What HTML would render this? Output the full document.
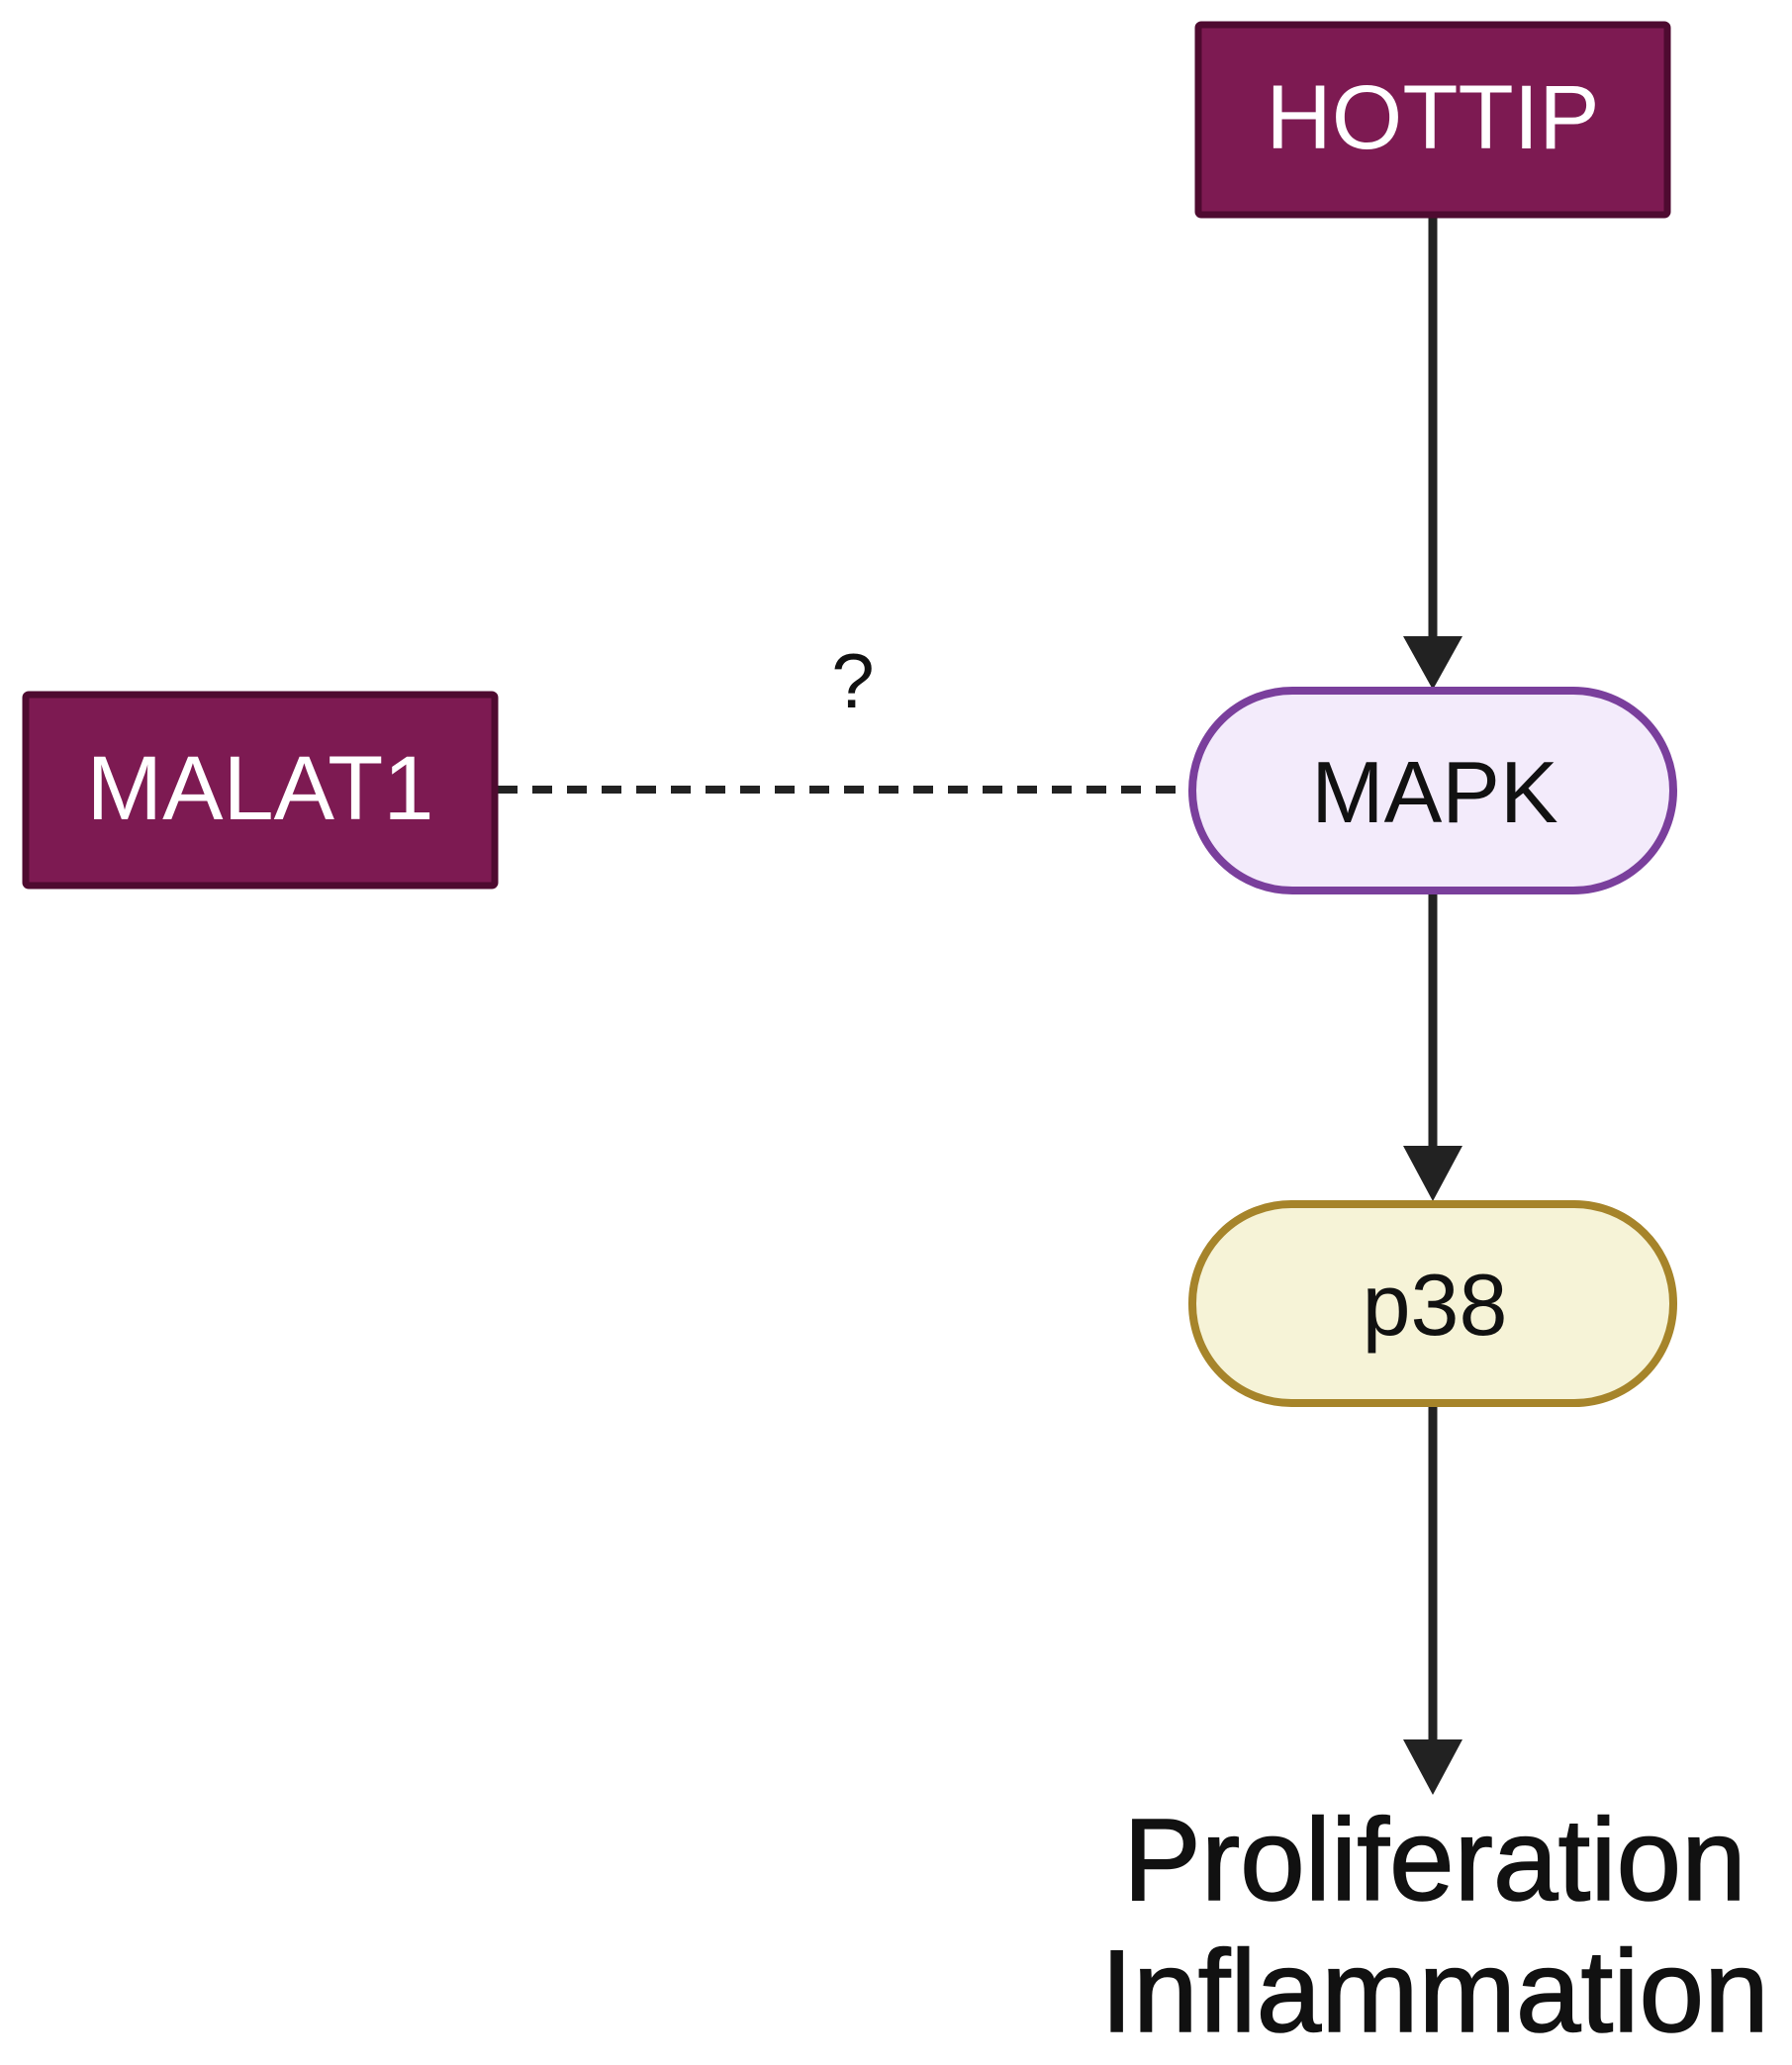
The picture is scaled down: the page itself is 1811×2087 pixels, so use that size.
<!DOCTYPE html>
<html><head><meta charset="utf-8"><style>
html,body{margin:0;padding:0;background:#fff;}
svg{display:block;}
text{font-family:"Liberation Sans",sans-serif;}
</style></head><body>
<svg width="1811" height="2087" viewBox="0 0 1811 2087" xmlns="http://www.w3.org/2000/svg">
<rect width="1811" height="2087" fill="#fff"/>
<line x1="1448" y1="217" x2="1448" y2="650" stroke="#222" stroke-width="9"/>
<polygon points="1418,643 1478,643 1448,697" fill="#222"/>
<line x1="1448" y1="901" x2="1448" y2="1165" stroke="#222" stroke-width="9"/>
<polygon points="1418,1158 1478,1158 1448,1214" fill="#222"/>
<line x1="1448" y1="1419" x2="1448" y2="1765" stroke="#222" stroke-width="9"/>
<polygon points="1418,1758 1478,1758 1448,1814" fill="#222"/>
<line x1="503" y1="798" x2="1202" y2="798" stroke="#222" stroke-width="8" stroke-dasharray="20,15"/>
<text x="862" y="715" font-size="78" text-anchor="middle" fill="#111">?</text>
<rect x="1211" y="25" width="474" height="192" rx="3" fill="#7d1a52" stroke="#4e0a30" stroke-width="7"/>
<text x="1448" y="150" font-size="92" text-anchor="middle" fill="#fff">HOTTIP</text>
<rect x="26" y="702" width="474" height="193" rx="3" fill="#7d1a52" stroke="#4e0a30" stroke-width="7"/>
<text x="263" y="828" font-size="92" text-anchor="middle" fill="#fff">MALAT1</text>
<rect x="1205" y="698" width="486" height="202" rx="101" fill="#f3ebfb" stroke="#7a3f9c" stroke-width="8"/>
<text x="1450" y="831" font-size="88" text-anchor="middle" fill="#111">MAPK</text>
<rect x="1205" y="1217" width="486" height="201" rx="100" fill="#f6f3d7" stroke="#a6842a" stroke-width="8"/>
<text x="1450" y="1349" font-size="88" text-anchor="middle" fill="#111">p38</text>
<text x="1450" y="1920" font-size="118" text-anchor="middle" fill="#111" stroke="#111" stroke-width="1.5">Proliferation</text>
<text x="1450" y="2053" font-size="118" text-anchor="middle" fill="#111" stroke="#111" stroke-width="1.5">Inflammation</text>
</svg>
</body></html>
